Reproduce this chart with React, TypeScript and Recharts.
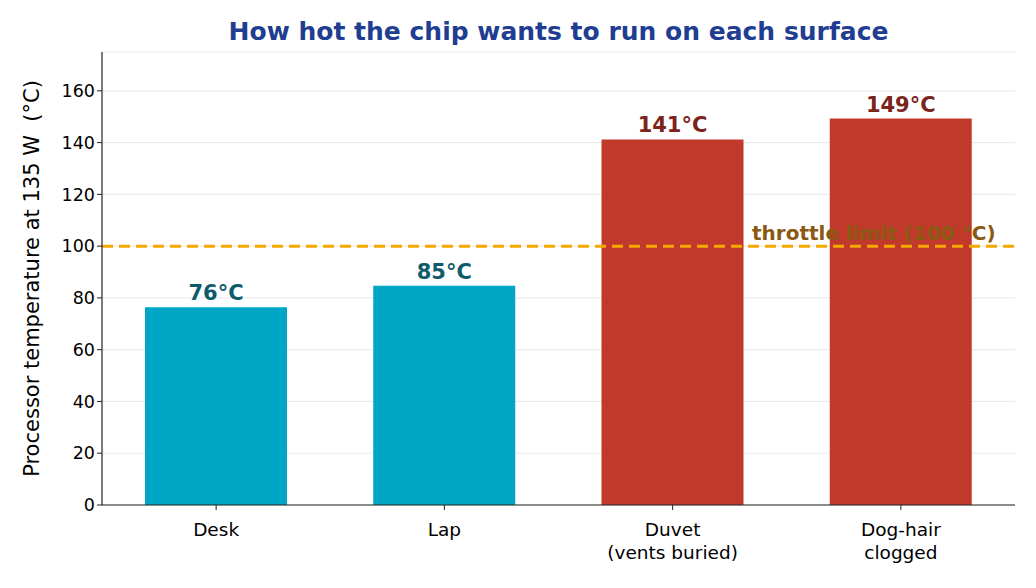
import { BarChart, Bar, XAxis, YAxis, CartesianGrid, ReferenceLine, Cell, LabelList } from "recharts";

const surfaces = ["Desk", "Lap", "Duvet\n(vents buried)", "Dog-hair\nclogged"];
const temps = [76.4, 84.7, 141.2, 149.3];
const tempLabels = ["76°C", "85°C", "141°C", "149°C"];
const overLimit = [false, false, true, true];
const yTicks = [0, 20, 40, 60, 80, 100, 120, 140, 160];
const yDomain = [0, 175];
const throttleLimit = 100;

const data = surfaces.map((name, i) => ({ name, temp: temps[i], label: tempLabels[i], hot: overLimit[i] }));

const FONT = "DejaVu Sans, sans-serif";
const W = 1036;
const H = 588;
const margin = { top: 52, right: 21, bottom: 0, left: 0 };
const xAxisHeight = 83;

function SurfaceTick({ x, y, payload }: any) {
  const lines = String(payload.value).split("\n");
  return (
    <text x={x} y={y} textAnchor="middle" fontFamily={FONT} fontSize={18.5} fill="#000">
      {lines.map((l, i) => (
        <tspan key={i} x={x} dy={i === 0 ? 24 : 23}>{l}</tspan>
      ))}
    </text>
  );
}

// recharts keeps bars on top of everything else, so the limit text goes in an overlay svg
function ThrottleLabel() {
  const plotH = H - margin.top - margin.bottom - xAxisHeight;
  const y = margin.top + plotH * (1 - (throttleLimit - yDomain[0]) / (yDomain[1] - yDomain[0]));
  return (
    <svg width={W} height={H} style={{ position: "absolute", left: 0, top: 0, pointerEvents: "none" }}>
      <text x={752} y={y - 6} fontFamily={FONT} fontSize={20} fontWeight="bold" fill="#8a5a12">
        throttle limit ({throttleLimit} °C)
      </text>
    </svg>
  );
}

export default function App() {
  return (
    <div style={{ position: "absolute", left: 0, top: 0, width: W, height: H, background: "#fff" }}>
      <div style={{ position: "absolute", left: 102, top: 15, width: 913, textAlign: "center", fontFamily: FONT, fontSize: 25, fontWeight: "bold", color: "#1f3d91", lineHeight: "34px" }}>
        How hot the chip wants to run on each surface
      </div>
      <BarChart width={W} height={H} data={data} margin={margin} barSize={142}>
        <CartesianGrid vertical={false} stroke="#ebebeb" strokeWidth={1.2} />
        <XAxis dataKey="name" height={xAxisHeight} tick={<SurfaceTick />} tickSize={5} stroke="#222" axisLine={{ stroke: "#222", strokeWidth: 1.2 }} interval={0} />
        <YAxis
          domain={yDomain}
          ticks={yTicks}
          width={102}
          tickSize={5}
          stroke="#222"
          axisLine={{ stroke: "#222", strokeWidth: 1.2 }}
          tick={{ fill: "#000", fontSize: 17.5, fontFamily: FONT }}
          allowDataOverflow
          label={{ value: "Processor temperature at 135 W\u00A0\u00A0(°C)", angle: -90, position: "insideLeft", dx: 27, style: { textAnchor: "middle", fontFamily: FONT, fontSize: 21, fill: "#000" } }}
        />
        <ReferenceLine y={throttleLimit} stroke="#f5a800" strokeWidth={3} strokeDasharray="11 6" />
        <Bar dataKey="temp" isAnimationActive={false}>
          {data.map((d) => (
            <Cell key={d.name} fill={d.hot ? "#c0392b" : "#00a6c6"} />
          ))}
          <LabelList
            dataKey="label"
            content={(p: any) => (
              <text x={p.x + p.width / 2} y={p.y - 7} textAnchor="middle" fontFamily={FONT} fontSize={21} fontWeight="bold" fill={data[p.index].hot ? "#7b241c" : "#0e5c6b"}>
                {p.value}
              </text>
            )}
          />
        </Bar>
      </BarChart>
      <ThrottleLabel />
    </div>
  );
}
